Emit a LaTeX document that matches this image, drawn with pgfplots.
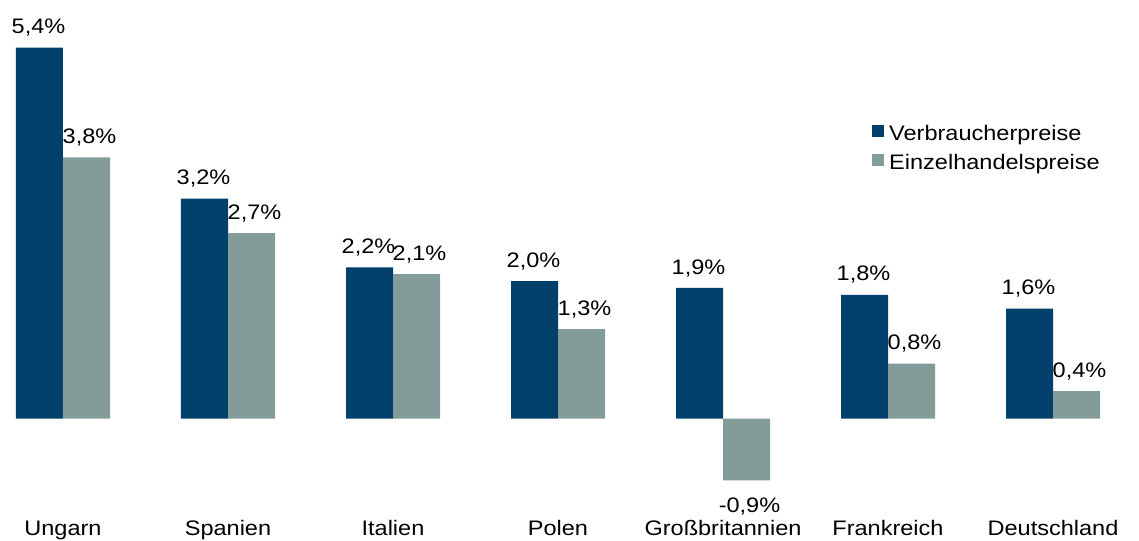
\documentclass[border=0pt]{standalone}
\usepackage{fontspec}
\setmainfont{Liberation Sans}[FakeStretch=1.12]
\usepackage{pgfplots}
\pgfplotsset{compat=1.18}
\definecolor{dunkel}{RGB}{0,64,106}
\definecolor{grau}{RGB}{131,156,154}
\newcommand{\lblfont}{\fontsize{21}{25}\selectfont}
\begin{document}
\lblfont
\begin{tikzpicture}
\begin{axis}[name=ax, scale only axis, width=1139pt, height=540pt,
  xmin=-0.3818, xmax=6.5212, ymin=-1.7686, ymax=6.0917,
  ybar=0pt, bar width=47pt,
  axis line style={draw=none}, major tick length=0pt, ytick=\empty,
  xtick={0,...,6},
  xticklabels={Ungarn,Spanien,Italien,Polen,Großbritannien,Frankreich,Deutschland},
  xticklabel style={anchor=base, yshift=5pt, inner sep=0pt, font=\lblfont},
  /pgf/number format/assume math mode=true,
  nodes near coords={\pgfmathprintnumber[fixed,zerofill,precision=1,use comma]{\pgfplotspointmeta}\%},
  every node near coord/.append style={font=\lblfont, inner sep=11pt, text height=21pt, black},
  legend style={at={(rel axis cs:0.7656,0.769)}, anchor=north west, draw=none, fill=none,
    inner sep=0pt, row sep=9.5pt, font=\lblfont,
    nodes={inner sep=0pt, text height=13.5pt, text depth=4pt},
    /tikz/every odd column/.append style={column sep=5pt}},
  legend cell align=left,
]
\addplot[fill=dunkel, draw=none,
  every node near coord/.append style={xshift=-1pt},
  legend image code/.code={\fill[dunkel] (0pt,-1pt) rectangle (12pt,11pt);}]
  coordinates {(0,5.4) (1,3.2) (2,2.2) (3,2.0) (4,1.9) (5,1.8) (6,1.6)};
\addplot[fill=grau, draw=none,
  every node near coord/.append style={xshift=3pt},
  legend image code/.code={\fill[grau] (0pt,-1pt) rectangle (12pt,11pt);}]
  coordinates {(0,3.8) (1,2.7) (2,2.1) (3,1.3) (4,-0.9) (5,0.8) (6,0.4)};
\legend{Verbraucherpreise,Einzelhandelspreise}
\end{axis}
\pgfresetboundingbox
\path[use as bounding box] (ax.south west) rectangle (ax.north east);
\end{tikzpicture}
\end{document}
